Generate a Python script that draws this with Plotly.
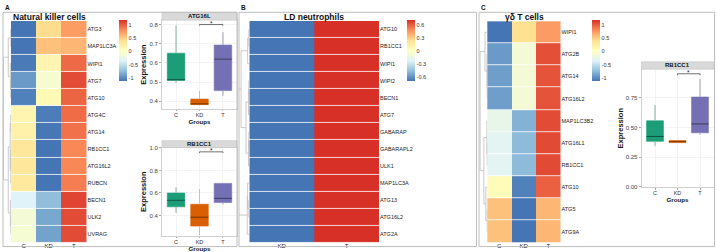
import plotly.graph_objects as go

W, H = 717, 252
FONT = "Liberation Sans, Arial, sans-serif"

# ---------------- data ----------------
nk_genes = ["ATG3", "MAP1LC3A", "WIPI1", "ATG7", "ATG10", "ATG4C", "ATG14",
            "RB1CC1", "ATG16L2", "RUBCN", "BECN1", "ULK2", "UVRAG"]
nk_groups = ["C", "KD", "T"]
nk_C = [-1.13, -1.15, -1.08, -0.92, -1.05, 0.15, 0.2, 0.33, 0.33, 0.3, -0.35, -0.12, -0.1]
nk_KD = [0.42, 0.55, 0.15, -0.08, 0.1, -1.07, -1.1, -1.14, -1.14, -1.15, -0.73, -0.85, -0.88]
nk_T = [0.71, 0.6, 0.93, 1.05, 0.95, 0.92, 0.9, 0.81, 0.81, 0.85, 1.08, 1.05, 1.05]

ld_genes = ["ATG10", "RB1CC1", "WIPI1", "WIPI2", "BECN1", "ATG7", "GABARAP",
            "GABARAPL2", "ULK1", "MAP1LC3A", "ATG13", "ATG16L2", "ATG2A"]
ld_groups = ["KD", "T"]
ld_KD = [-0.707, -0.707, -0.707, -0.707, -0.707, -0.707, -0.707,
         -0.707, -0.707, -0.707, -0.707, -0.707, -0.707]
ld_T = [0.707, 0.707, 0.707, 0.707, 0.707, 0.707, 0.707,
        0.707, 0.707, 0.707, 0.707, 0.707, 0.707]

gd_genes = ["WIPI1", "ATG2B", "ATG14", "ATG16L2", "MAP1LC3B2", "ATG16L1",
            "RB1CC1", "ATG10", "ATG5", "ATG9A"]
gd_groups = ["C", "KD", "T"]
gd_C = [-1.12, -0.92, -0.9, -0.9, -0.25, -0.31, -0.31, 0.08, 0.55, 0.55]
gd_KD = [0.4, -0.12, -0.12, -0.12, -0.8, -0.75, -0.75, -1.05, -1.15, -1.15]
gd_T = [0.72, 1.04, 1.02, 1.02, 1.05, 1.06, 1.06, 0.97, 0.6, 0.6]

# dendrogram linkages (a, b, height); leaves in row order
nk_link = [(0, 1, 0.1), (3, 4, 0.1), (2, 14, 0.3), (13, 15, 1.3), (5, 6, 0.1),
           (7, 8, 0.05), (18, 9, 0.1), (17, 19, 0.4), (11, 12, 0.05),
           (10, 21, 0.3), (20, 22, 1.3), (16, 23, 3.6)]
ld_link = [(0, 1, 0.2), (13, 2, 0.8), (3, 4, 0.2), (15, 5, 0.4), (6, 7, 0.2),
           (17, 8, 0.4), (16, 18, 1.6), (10, 11, 0.2), (9, 20, 0.8),
           (21, 12, 1.0), (14, 19, 4.0), (23, 22, 6.0)]
gd_link = [(2, 3, 0.05), (1, 10, 0.1), (0, 11, 0.8), (5, 6, 0.05), (4, 13, 0.15),
           (8, 9, 0.05), (7, 15, 0.5), (14, 16, 1.2), (12, 17, 2.5)]

box_groups = ["C", "KD", "T"]
# NK ATG16L
b1_title = "ATG16L"
b1_lf = [0.497, 0.383, 0.43]
b1_q1 = [0.509, 0.383, 0.456]
b1_med = [0.513, 0.387, 0.62]
b1_q3 = [0.651, 0.412, 0.693]
b1_uf = [0.795, 0.454, 0.76]
b1_sig = 0.80
# NK RB1CC1
b2_title = "RB1CC1"
b2_lf = [0.425, 0.226, 0.5]
b2_q1 = [0.477, 0.306, 0.515]
b2_med = [0.535, 0.385, 0.552]
b2_q3 = [0.6, 0.5, 0.685]
b2_uf = [0.65, 0.634, 0.685]
b2_sig = 0.965
# gd T RB1CC1
b3_title = "RB1CC1"
b3_lf = [0.345, 0.37, 0.44]
b3_q1 = [0.383, 0.372, 0.455]
b3_med = [0.424, 0.38, 0.53]
b3_q3 = [0.557, 0.39, 0.758]
b3_uf = [0.69, 0.395, 0.91]
b3_sig = 0.955

# ---------------- styling helpers ----------------
def fx(px):
    return px / W

def fy(py):
    return 1 - py / H

CS_COLS = ["#4575B4", "#91BFDB", "#E0F3F8", "#FFFFBF", "#FEE090", "#FC8D59", "#D73027"]
CS = [[i / 6, c] for i, c in enumerate(CS_COLS)]
BOX_COLS = ["#1B9E77", "#D95F02", "#7570B3"]


def darken(h, f=0.55):
    h = h.lstrip("#")
    r, g, b = (int(h[i:i + 2], 16) for i in (0, 2, 4))
    return "#%02x%02x%02x" % (int(r * f), int(g * f), int(b * f))


fig = go.Figure()
layout = dict(width=W, height=H, margin=dict(l=0, r=0, t=0, b=0),
              paper_bgcolor="white", plot_bgcolor="white", showlegend=False,
              font=dict(family=FONT, color="#222"))
shapes, annos = [], []


def dendro_xy(n, merges):
    pos = {i: float(i) for i in range(n)}
    hgt = {i: 0.0 for i in range(n)}
    xs, ys = [], []
    for k, (a, b, h) in enumerate(merges):
        node = n + k
        xs += [hgt[a], h, h, hgt[b], None]
        ys += [pos[a], pos[a], pos[b], pos[b], None]
        pos[node] = (pos[a] + pos[b]) / 2
        hgt[node] = h
    return xs, ys


def add_heat(idx, genes, groups, cols, xd, yd, zr, cbx, ticks, title, title_x):
    s = str(idx)
    z = [[c[i] for c in cols] for i in range(len(genes))]
    fig.add_trace(go.Heatmap(
        z=z, x=groups, y=genes, xaxis="x" + s, yaxis="y" + s,
        colorscale=CS, zmin=zr[0], zmax=zr[1], ygap=0.8, hoverinfo="skip",
        colorbar=dict(x=fx(cbx), xanchor="left", y=fy(48.7), yanchor="middle",
                      len=61, lenmode="pixels", thickness=8, thicknessmode="pixels",
                      outlinewidth=0, xpad=0, ypad=0,
                      tickvals=ticks, ticktext=[("%g" % t) for t in ticks],
                      tickfont=dict(size=5.5, color="#333", family=FONT))))
    layout["xaxis" + s] = dict(domain=[fx(xd[0]), fx(xd[1])], anchor="y" + s,
                               tickfont=dict(size=6, color="#222"), ticks="",
                               showgrid=False, zeroline=False, showline=False,
                               ticklabelstandoff=-2)
    layout["yaxis" + s] = dict(domain=[fy(yd[1]), fy(yd[0])], anchor="x" + s,
                               side="right", autorange="reversed",
                               tickfont=dict(size=5.5, color="#222"), ticks="",
                               showgrid=False, zeroline=False, showline=False)
    annos.append(dict(text="<b>%s</b>" % title, x=fx(title_x), y=fy(13.8),
                      xref="paper", yref="paper", showarrow=False,
                      font=dict(size=8.5, color="#111"), xanchor="center", yanchor="middle"))


def add_dendro(idx, n, link, xd, yd, hmax):
    s = str(idx)
    xs, ys = dendro_xy(n, link)
    fig.add_trace(go.Scatter(x=xs, y=ys, mode="lines", xaxis="x" + s, yaxis="y" + s,
                             line=dict(color="#bdbdbd", width=0.8), hoverinfo="skip"))
    layout["xaxis" + s] = dict(domain=[fx(xd[0]), fx(xd[1])], anchor="y" + s,
                               range=[hmax, 0], visible=False)
    layout["yaxis" + s] = dict(domain=[fy(yd[1]), fy(yd[0])], anchor="x" + s,
                               range=[n - 0.5, -0.5], visible=False)


def add_box(idx, lf, q1, med, q3, uf, sig, title, xd, yd, strip, yr, tv, tfmt):
    s = str(idx)
    xa, ya = "x" + s, "y" + s
    for i, g in enumerate(box_groups):
        p = i + 1
        fig.add_trace(go.Box(x=[p], q1=[q1[i]], median=[med[i]], q3=[q3[i]],
                             lowerfence=[lf[i]], upperfence=[uf[i]], width=0.75,
                             fillcolor=BOX_COLS[i], line=dict(color=BOX_COLS[i], width=0.6),
                             whiskerwidth=0, boxpoints=False, xaxis=xa, yaxis=ya,
                             hoverinfo="skip"))
        fig.add_trace(go.Scatter(x=[p, p, None, p, p], y=[lf[i], q1[i], None, q3[i], uf[i]],
                                 mode="lines", line=dict(color="#c6c6c6", width=0.9),
                                 xaxis=xa, yaxis=ya, hoverinfo="skip"))
        fig.add_trace(go.Scatter(x=[p - 0.375, p + 0.375], y=[med[i], med[i]],
                                 mode="lines", line=dict(color=darken(BOX_COLS[i]), width=1),
                                 xaxis=xa, yaxis=ya, hoverinfo="skip"))
    tip = 0.012 * (yr[1] - yr[0])
    fig.add_trace(go.Scatter(x=[2, 2, 3, 3], y=[sig - tip, sig, sig, sig - tip], mode="lines",
                             line=dict(color="#333", width=0.7), xaxis=xa, yaxis=ya,
                             hoverinfo="skip"))
    annos.append(dict(text="*", x=2.5, y=sig, xref=xa, yref=ya, showarrow=False,
                      yanchor="middle", yshift=1, font=dict(size=6.5, color="#222")))
    layout["xaxis" + s] = dict(domain=[fx(xd[0]), fx(xd[1])], anchor=ya, range=[0.4, 3.6],
                               tickvals=[1, 2, 3], ticktext=box_groups,
                               tickfont=dict(size=5.5, color="#333"), ticks="outside",
                               ticklen=1.5, tickcolor="#aaa", tickwidth=0.6,
                               ticklabelstandoff=-1,
                               showline=True, mirror=True, linecolor="#d0d0d0", linewidth=0.8,
                               showgrid=True, gridcolor="#f3f3f3", zeroline=False,
                               title=dict(text="<b>Groups</b>", font=dict(size=6.2, color="#111"),
                                          standoff=0))
    layout["yaxis" + s] = dict(domain=[fy(yd[1]), fy(yd[0])], anchor=xa, range=yr,
                               tickvals=tv, tickformat=tfmt,
                               tickfont=dict(size=6, color="#444"), ticks="outside",
                               ticklen=2, tickcolor="#aaa", tickwidth=0.6,
                               showline=True, mirror=True, linecolor="#d0d0d0", linewidth=0.8,
                               showgrid=True, gridcolor="#f3f3f3", zeroline=False,
                               title=dict(text="<b>Expression</b>", font=dict(size=7.5, color="#111"),
                                          standoff=1))
    shapes.append(dict(type="rect", xref="paper", yref="paper",
                       x0=fx(xd[0]), x1=fx(xd[1]), y0=fy(strip[1]), y1=fy(strip[0]),
                       fillcolor="#d9d9d9", line=dict(color="#c4c4c4", width=0.6), layer="above"))
    annos.append(dict(text="<b>%s</b>" % title, x=fx((xd[0] + xd[1]) / 2),
                      y=fy((strip[0] + strip[1]) / 2), xref="paper", yref="paper",
                      showarrow=False, xanchor="center", yanchor="middle",
                      font=dict(size=6, color="#111")))


# heatmaps
add_heat(1, nk_genes, nk_groups, [nk_C, nk_KD, nk_T], (11, 86.5), (18.3, 244.7),
         (-1.11, 1.165), 119, [1, 0.5, 0, -0.5, -1], "Natural killer cells", 49)
add_heat(2, ld_genes, ld_groups, [ld_KD, ld_T], (249.3, 379), (18.3, 244.7),
         (-0.707, 0.707), 407, [0.6, 0.3, 0, -0.3, -0.6], "LD neutrophils", 314)
add_heat(3, gd_genes, gd_groups, [gd_C, gd_KD, gd_T], (487, 560.5), (18.5, 244.5),
         (-1.11, 1.165), 592.3, [1, 0.5, 0, -0.5, -1], "γδ T cells", 524)

# dendrograms
add_dendro(7, len(nk_genes), nk_link, (3, 11), (18.3, 244.7), 3.8)
add_dendro(8, len(ld_genes), ld_link, (239, 249.3), (18.3, 244.7), 5.0)
add_dendro(9, len(gd_genes), gd_link, (479, 487.3), (18.5, 244.5), 2.9)

# boxplots
add_box(4, b1_lf, b1_q1, b1_med, b1_q3, b1_uf, b1_sig, b1_title,
        (162, 237), (17.5, 108), (9.5, 17.5), [0.361, 0.823],
        [0.4, 0.5, 0.6, 0.7, 0.8], ".1f")
add_box(5, b2_lf, b2_q1, b2_med, b2_q3, b2_uf, b2_sig, b2_title,
        (162, 237), (147.5, 237.5), (140.5, 147.5), [0.22, 1.003],
        [0.4, 0.6, 0.8, 1.0], ".1f")
add_box(6, b3_lf, b3_q1, b3_med, b3_q3, b3_uf, b3_sig, b3_title,
        (641.5, 713.5), (67.5, 188), (60, 67.5), [-0.006, 0.994],
        [0, 0.25, 0.5, 0.75], ".2f")

# panel frames and letters
for (x0, x1), letter in [((3, 237), "A"), ((239, 476.5), "B"), ((479, 714.5), "C")]:
    shapes.append(dict(type="rect", xref="paper", yref="paper",
                       x0=fx(x0), x1=fx(x1), y0=fy(248.5), y1=fy(9.5),
                       line=dict(color="#bdbdbd", width=1), fillcolor="rgba(0,0,0,0)",
                       layer="above"))
    annos.append(dict(text="<b>%s</b>" % letter, x=fx(x0), y=fy(4.2), xref="paper",
                      yref="paper", showarrow=False, xanchor="left", yanchor="middle",
                      font=dict(size=6.5, color="#111")))

layout["shapes"] = shapes
layout["annotations"] = annos
fig.update_layout(**layout)
fig.write_html("out.html")
